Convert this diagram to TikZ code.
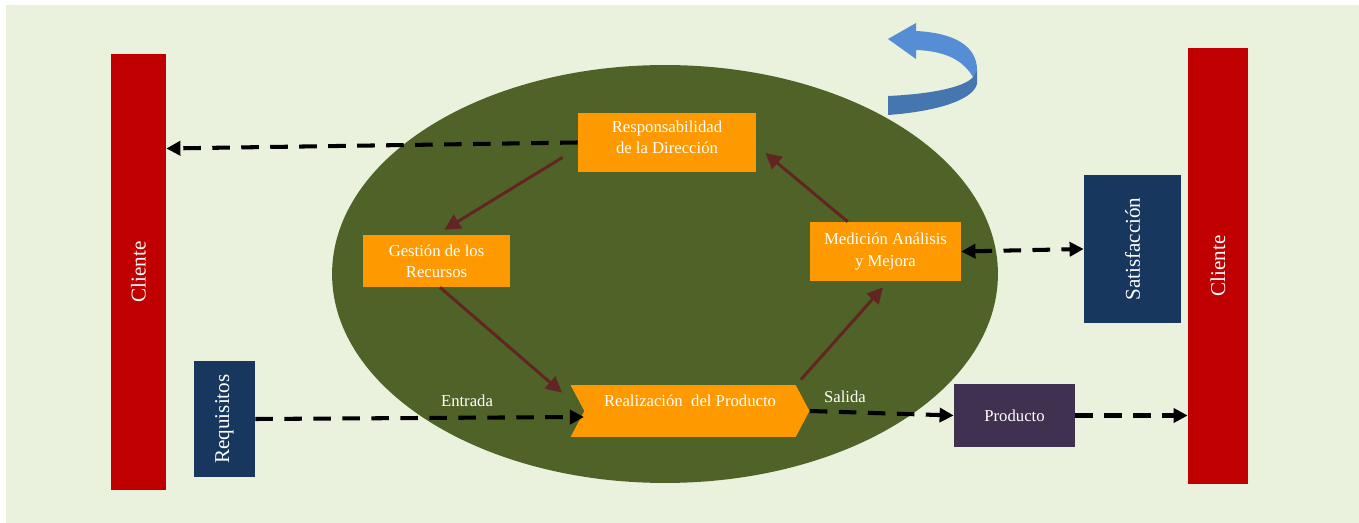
\documentclass[tikz,border=0pt]{standalone}
\usepackage{fontspec}
\setmainfont{Liberation Serif}
\usepackage{graphicx}
\usetikzlibrary{shapes.symbols,arrows.meta,calc}
\definecolor{fondo}{HTML}{EAF1DD}
\definecolor{rojo}{HTML}{C00000}
\definecolor{oliva}{HTML}{4F6228}
\definecolor{naranja}{HTML}{FF9900}
\definecolor{azulosc}{HTML}{17375E}
\definecolor{morado}{HTML}{403151}
\definecolor{marron}{HTML}{632523}
\definecolor{azulcl}{HTML}{558ED5}
\definecolor{azulmed}{HTML}{4676B0}
\begin{document}
\begin{tikzpicture}[x=0.02cm,y=-0.02cm,
      every node/.style={text=white,inner sep=0pt,align=center,
        font=\fontsize{9.5}{12}\selectfont},
      cliente/.style={fill=rojo,minimum width=1.1cm,minimum height=8.72cm,
        font=\fontsize{12}{14}\selectfont},
      proceso/.style={fill=naranja},
      azul/.style={fill=azulosc,font=\fontsize{12}{14}\selectfont},
      flujo/.style={draw=marron,line width=1.7pt,-{Triangle[length=9pt,width=9pt]}},
      enlace/.style={draw=black,line width=2.3pt,dash pattern=on 10pt off 6.5pt,
        -{Triangle[length=8pt,width=8pt]}}]
    \useasboundingbox (0,0) rectangle (1359,523);
    \fill[fondo] (6,5) rectangle (1359,523);
    \fill[oliva] (665,274) ellipse [x radius=6.66cm,y radius=4.18cm];
    \fill[azulcl] (916,31) .. controls (956,33) and (977,47) .. (977,70)
      -- (973,77) .. controls (963,60) and (945,51) .. (916,50)
      -- (916,59) -- (888,39) -- (916,23) -- cycle;
    \fill[azulmed] (888,96) .. controls (932,94) and (965,87) .. (973,77)
      -- (977,70) -- (977,84) .. controls (972,102) and (930,112) .. (888,115) -- cycle;
    \node[cliente] (clienteL) at (138.5,272) {\rotatebox{90}{Cliente}};
    \node[cliente,minimum width=1.2cm] (clienteR) at (1218,266) {\rotatebox{90}{Cliente}};
    \node[proceso,minimum width=3.56cm,minimum height=1.18cm] (resp) at (667,142.5)
      {Responsabilidad\\de la Dirección\\[-6pt]};
    \node[proceso,minimum width=2.94cm,minimum height=1.04cm] (gestion) at (436.5,261)
      {Gestión de los\\Recursos};
    \node[proceso,minimum width=3.02cm,minimum height=1.18cm] (medicion) at (885.5,251.5)
      {Medición Análisis\\y Mejora};
    \node[proceso,shape=signal,signal to=east,signal from=west,signal pointer angle=124,
      minimum width=4.78cm,minimum height=1.04cm] (realiz) at (690,411)
      {Realización\ \ del Producto\\\mbox{}};
    \node[azul,minimum width=1.94cm,minimum height=2.96cm] (satisf) at (1132.5,249)
      {\rotatebox{90}{Satisfacción}};
    \node[azul,minimum width=1.22cm,minimum height=2.32cm] (requis) at (224.5,419)
      {\rotatebox{90}{Requisitos}};
    \node[fill=morado,minimum width=2.42cm,minimum height=1.26cm] (producto) at (1014.5,415.5)
      {Producto};
    \node (entrada) at (467,401) {Entrada};
    \node (salida) at (845,397) {Salida};
    \draw[flujo] ($(resp.south west)+(-15,-15)$) -- ($(gestion.north)+(8,-5)$);
    \draw[flujo] ($(gestion.south)+(3.5,0)$) -- ($(realiz.north west)+(-8,8)$);
    \draw[flujo] ($(realiz.north east)+(5,-5)$) -- ($(medicion.south)+(-2.5,6)$);
    \draw[flujo] ($(medicion.north west)+(38,0)$) -- ($(resp.east)+(9,10.5)$);
    \draw[enlace] (resp.west) -- ($(clienteL.east |- resp.west)+(0,6)$);
    \draw[enlace] (requis.east) -- ($(realiz.west)+(0,6)$);
    \draw[enlace] (realiz.east) -- (producto.west);
    \draw[enlace] (producto.east) -- (clienteR.west |- producto.east);
    \draw[enlace,{Triangle[length=8pt,width=8pt]}-{Triangle[length=8pt,width=8pt]}]
      (medicion.east) -- (satisf.west);
  \end{tikzpicture}
\end{document}
